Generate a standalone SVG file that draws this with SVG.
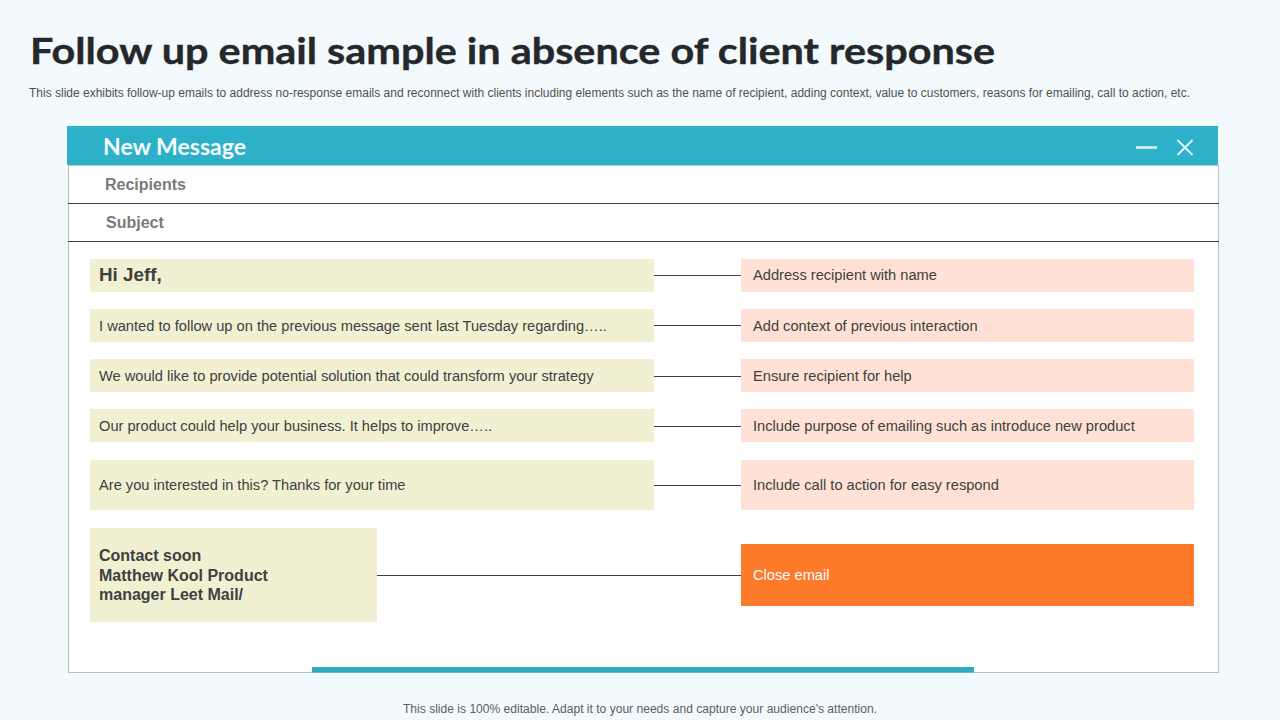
<svg xmlns="http://www.w3.org/2000/svg" width="1280" height="720" viewBox="0 0 1280 720">
<style>
text{font-family:"Liberation Sans",Arial,sans-serif;fill:#404040}
.b{font-size:14.65px}
.l{font-size:16px;font-weight:bold;fill:#7a7a7a}
.y{fill:#f2f0d2}.p{fill:#ffe2d5}
.c{stroke:#404040;stroke-width:1;fill:none}
.s{font-size:16px;font-weight:bold}
</style>
<rect width="1280" height="720" fill="#f3fafd"/>
<text id="title" x="30" y="64" textLength="965" lengthAdjust="spacingAndGlyphs" style="font-family:Lato,'Liberation Sans',sans-serif;font-size:37px;font-weight:bold;fill:#24282b;stroke:#24282b;stroke-width:.4px">Follow up email sample in absence of client response</text>
<text id="subtitle" x="29" y="97" textLength="1161" lengthAdjust="spacingAndGlyphs" style="font-size:12px;fill:#505050">This slide exhibits follow-up emails to address no-response emails and reconnect with clients including elements such as the name of recipient, adding context, value to customers, reasons for emailing, call to action, etc.</text>
<g id="window">
<rect x="68.500" y="165.500" width="1150" height="507" fill="#fff" stroke="#b9bec0"/>
<rect x="67" y="126" width="1151" height="39" fill="#2db1c8"/>
<text x="103" y="155" textLength="143" lengthAdjust="spacingAndGlyphs" style="font-family:Lato,'Liberation Sans',sans-serif;font-size:22px;font-weight:bold;fill:#f4fbfc">New Message</text>
<path d="M1136 147.500H1157" stroke="#e6f8fb" stroke-width="2.500" fill="none"/>
<path d="M1177.500 140L1192.500 155M1192.500 140L1177.500 155" stroke="#e6f8fb" stroke-width="1.800" fill="none"/>
<text class="l" x="105" y="190">Recipients</text>
<text class="l" x="106" y="228">Subject</text>
<path class="c" d="M68 203.500H1219M68 241.500H1219"/>
<rect x="312" y="667" width="662" height="5.500" fill="#2fabc0"/>
</g>
<g id="connectors">
<path class="c" d="M654 275.500H741M654 325.500H741M654 376.500H741M654 426.500H741M654 485.500H741M377 575.500H741"/>
</g>
<g id="n1"><rect class="y" x="90" y="259" width="564" height="33"/><text x="99" y="281" style="font-size:18.800px;font-weight:bold">Hi Jeff,</text></g>
<g id="n2"><rect class="y" x="90" y="309" width="564" height="33"/><text class="b" x="99" y="331">I wanted to follow up on the previous message sent last Tuesday regarding…..</text></g>
<g id="n3"><rect class="y" x="90" y="359" width="564" height="33"/><text class="b" x="99" y="381">We would like to provide potential solution that could transform your strategy</text></g>
<g id="n4"><rect class="y" x="90" y="409" width="564" height="33"/><text class="b" x="99" y="431">Our product could help your business. It helps to improve…..</text></g>
<g id="n5"><rect class="y" x="90" y="460" width="564" height="50"/><text class="b" x="99" y="490">Are you interested in this? Thanks for your time</text></g>
<g id="n6"><rect class="y" x="90" y="528" width="287" height="94"/><text class="s" x="99" y="561">Contact soon</text><text class="s" x="99" y="581">Matthew Kool Product</text><text class="s" x="99" y="600">manager Leet Mail/</text></g>
<g id="r1"><rect class="p" x="741" y="259" width="453" height="33"/><text class="b" x="753" y="280">Address recipient with name</text></g>
<g id="r2"><rect class="p" x="741" y="309" width="453" height="33"/><text class="b" x="753" y="331">Add context of previous interaction</text></g>
<g id="r3"><rect class="p" x="741" y="359" width="453" height="33"/><text class="b" x="753" y="381">Ensure recipient for help</text></g>
<g id="r4"><rect class="p" x="741" y="409" width="453" height="33"/><text class="b" x="753" y="431">Include purpose of emailing such as introduce new product</text></g>
<g id="r5"><rect class="p" x="741" y="460" width="453" height="50"/><text class="b" x="753" y="490">Include call to action for easy respond</text></g>
<g id="r6"><rect x="741" y="544" width="453" height="62" fill="#fd7a2b"/><text class="b" x="753" y="580" style="fill:#fff">Close email</text></g>
<text id="footer" x="640" y="713" text-anchor="middle" textLength="474" lengthAdjust="spacingAndGlyphs" style="font-size:12px;fill:#5a5f63">This slide is 100% editable. Adapt it to your needs and capture your audience's attention.</text>
</svg>
